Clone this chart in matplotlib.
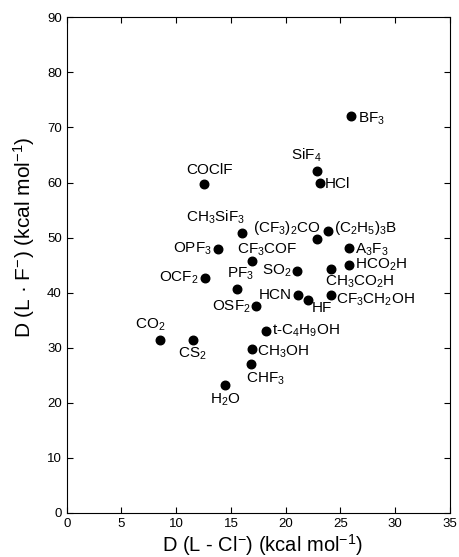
import matplotlib
matplotlib.use("Agg")
import matplotlib.pyplot as plt

plt.rcParams['font.family'] = ['Liberation Sans', 'DejaVu Sans']
plt.rcParams['mathtext.default'] = 'regular'

# ligand labels and the two binding energies (kcal/mol)
names = ['BF$_3$', 'SiF$_4$', 'HCl', 'COClF', 'CH$_3$SiF$_3$', '(CF$_3$)$_2$CO',
         '(C$_2$H$_5$)$_3$B', 'OPF$_3$', 'A$_3$F$_3$', 'CF$_3$COF', 'HCO$_2$H',
         'CH$_3$CO$_2$H', 'SO$_2$', 'OCF$_2$', 'PF$_3$', 'HCN', 'HF',
         'CF$_3$CH$_2$OH', 'OSF$_2$', 'CO$_2$', 'CS$_2$', 't-C$_4$H$_9$OH',
         'CH$_3$OH', 'CHF$_3$', 'H$_2$O']
d_cl = [26.0, 22.9, 23.1, 12.5, 16.0, 22.9, 23.9, 13.8, 25.8, 16.9, 25.8,
        24.1, 21.0, 12.6, 15.6, 21.1, 22.0, 24.1, 17.3, 8.5, 11.5, 18.2,
        16.9, 16.8, 14.5]
d_f = [72.1, 62.1, 60.0, 59.7, 50.8, 49.7, 51.2, 47.9, 48.1, 45.7, 45.1,
       44.3, 44.0, 42.7, 40.6, 39.5, 38.7, 39.5, 37.5, 31.4, 31.4, 33.1,
       29.8, 27.1, 23.3]

# label placement: (dx, dy) in points, ha, va
place = [
    (5, -2, 'left', 'center'),
    (3, 5, 'right', 'bottom'),
    (4, -1, 'left', 'center'),
    (4, 5, 'center', 'bottom'),
    (2, 5, 'right', 'bottom'),
    (2, 8, 'right', 'center'),
    (4, 2, 'left', 'center'),
    (-4, 0, 'right', 'center'),
    (4, -1, 'left', 'center'),
    (11, 8, 'center', 'center'),
    (4, 0, 'left', 'center'),
    (-4, -3, 'left', 'top'),
    (-4, 0, 'right', 'center'),
    (-4, 0, 'right', 'center'),
    (2, 5, 'center', 'bottom'),
    (-4, 0, 'right', 'center'),
    (3, -6, 'left', 'center'),
    (4, -3, 'left', 'center'),
    (-4, 0, 'right', 'center'),
    (-7, 5, 'center', 'bottom'),
    (0, -4, 'center', 'top'),
    (4, 0, 'left', 'center'),
    (4, -2, 'left', 'center'),
    (11, -5, 'center', 'top'),
    (0, -5, 'center', 'top'),
]

fig = plt.figure(figsize=(4.6, 5.57), dpi=100)
ax = fig.add_axes([0.145, 0.079, 0.833, 0.890])

ax.scatter(d_cl, d_f, s=38, color='black', zorder=3)
for n, x, y, (dx, dy, ha, va) in zip(names, d_cl, d_f, place):
    ax.annotate(n, (x, y), xytext=(dx, dy), textcoords='offset points',
                ha=ha, va=va, fontsize=11)

ax.set_xlim(0, 35)
ax.set_ylim(0, 90)
ax.set_xticks(range(0, 36, 5))
ax.set_yticks(range(0, 91, 10))
ax.tick_params(direction='in', top=True, right=True, length=4, labelsize=9.5)
ax.set_xlabel('D (L - Cl$^{-}$) (kcal mol$^{-1}$)', fontsize=14.5)
ax.set_ylabel('D (L · F$^{-}$) (kcal mol$^{-1}$)', fontsize=15)
ax.xaxis.set_label_coords(0.51, -0.038)
ax.yaxis.set_label_coords(-0.077, 0.556)

fig.savefig('out.png', dpi=100)
